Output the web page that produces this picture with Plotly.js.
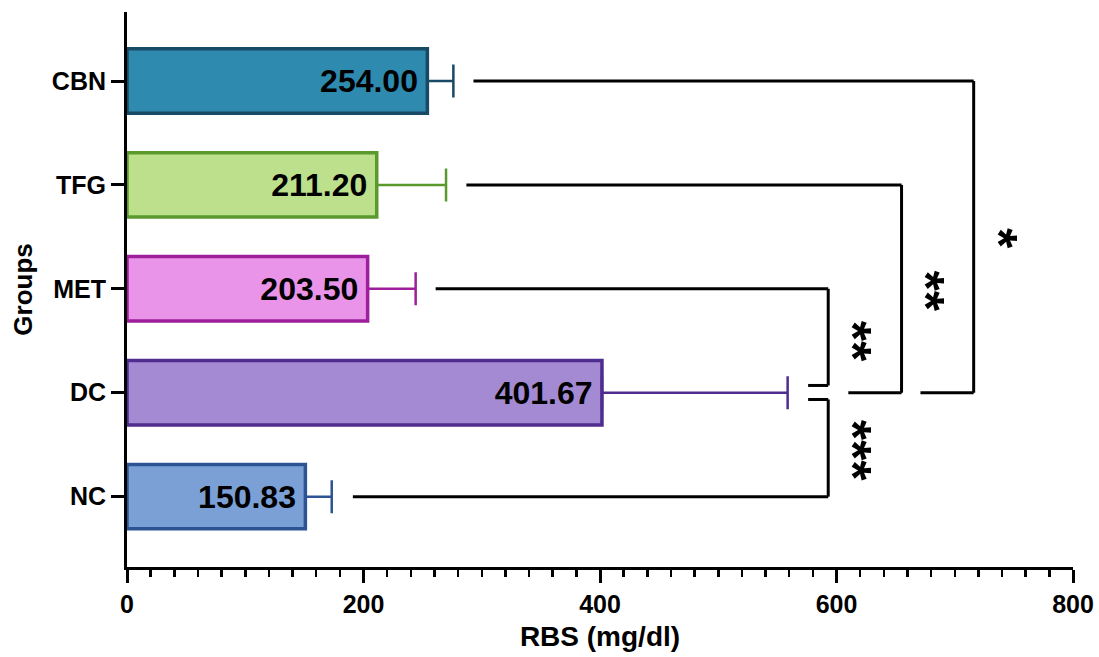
<!DOCTYPE html>
<html>
<head>
<meta charset="utf-8">
<script src="https://cdn.plot.ly/plotly-3.0.1.min.js"></script>
<style>
  html, body { margin: 0; padding: 0; background: #fff; }
  #chart { width: 1099px; height: 657px; }
</style>
</head>
<body>
<div id="chart"></div>
<script>
// ---- data ----
const categories = ['NC', 'DC', 'MET', 'TFG', 'CBN'];
const means = [150.83, 401.67, 203.50, 211.20, 254.00];
const errors = [22.3, 157.0, 40.6, 58.6, 22.0];
const fillColors = ['#7BA0D6', '#A48AD3', '#E994E9', '#BCE08B', '#2E8AAF'];
const lineColors = ['#2C5495', '#4F2D8F', '#9E1F9C', '#5A9A2D', '#184965'];

// significance brackets: group compared with DC
const bracketGroups = ['MET', 'NC', 'TFG', 'CBN'];
const bracketStartX = [261, 191, 287, 293];
const bracketVertX = [593, 593, 655, 716];
const bracketEndX = [576, 576, 610, 671];
const bracketEndY = [1.07, 0.935, 1.0, 1.0];
const bracketStars = ['**', '***', '**', '*'];
const starX = [614, 614, 676, 737];
const starY = [1.50, 0.45, 1.98, 2.485];

const FONT = 'Liberation Sans, Arial, Helvetica, sans-serif';

const traces = categories.map((c, i) => ({
  type: 'bar',
  orientation: 'h',
  y: [c],
  x: [means[i]],
  width: 0.62,
  marker: { color: fillColors[i], line: { color: lineColors[i], width: 3.5 } },
  texttemplate: '%{x:.2f}\u2009',
  textposition: 'inside',
  insidetextanchor: 'end',
  constraintext: 'none',
  textfont: { family: FONT, size: 32, color: '#000', weight: 700 },
  error_x: {
    type: 'data', symmetric: false, array: [errors[i]], arrayminus: [0],
    color: lineColors[i], thickness: 2.5, width: 16.5
  },
  hoverinfo: 'skip',
  showlegend: false
}));

const shapes = [];
const annotations = [];
bracketGroups.forEach((g, i) => {
  const yg = categories.indexOf(g);
  const ln = { color: '#000', width: 3 };
  shapes.push({ type: 'line', xref: 'x', yref: 'y', x0: bracketStartX[i], x1: bracketVertX[i], y0: yg, y1: yg, line: ln });
  shapes.push({ type: 'line', xref: 'x', yref: 'y', x0: bracketVertX[i], x1: bracketVertX[i], y0: yg, y1: bracketEndY[i], line: ln });
  shapes.push({ type: 'line', xref: 'x', yref: 'y', x0: bracketVertX[i], x1: bracketEndX[i], y0: bracketEndY[i], y1: bracketEndY[i], line: ln });
  annotations.push({
    xref: 'x', yref: 'y', x: starX[i], y: starY[i], text: bracketStars[i],
    showarrow: false, textangle: 90,
    font: { family: FONT, size: 52, color: '#000', weight: 700 }
  });
});

const layout = {
  width: 1099, height: 657,
  margin: { l: 127, r: 26, t: 12, b: 90 },
  paper_bgcolor: '#fff', plot_bgcolor: '#fff',
  font: { family: FONT, color: '#000' },
  barmode: 'overlay',
  xaxis: {
    range: [0, 800], tickvals: [0, 200, 400, 600, 800],
    ticks: 'outside', ticklen: 13, tickwidth: 3, tickcolor: '#000',
    minor: { dtick: 20, tick0: 0, ticks: 'outside', ticklen: 7, tickwidth: 2.5, tickcolor: '#000', showgrid: false },
    showline: true, linewidth: 3, linecolor: '#000',
    showgrid: false, zeroline: false,
    tickfont: { family: FONT, size: 25, weight: 700 },
    title: { text: 'RBS (mg/dl)', font: { family: FONT, size: 28, weight: 700 }, standoff: 10 }
  },
  yaxis: {
    type: 'category', categoryorder: 'array', categoryarray: categories,
    range: [-0.677, 4.664],
    ticks: 'outside', ticklen: 13, tickwidth: 3, tickcolor: '#000',
    showline: true, linewidth: 3, linecolor: '#000',
    showgrid: false, zeroline: false,
    tickfont: { family: FONT, size: 25, weight: 700 },
    title: { text: 'Groups', font: { family: FONT, size: 26, weight: 700 }, standoff: 12 }
  },
  shapes: shapes,
  annotations: annotations
};

Plotly.newPlot('chart', traces, layout, { displayModeBar: false, staticPlot: true });
</script>
</body>
</html>
